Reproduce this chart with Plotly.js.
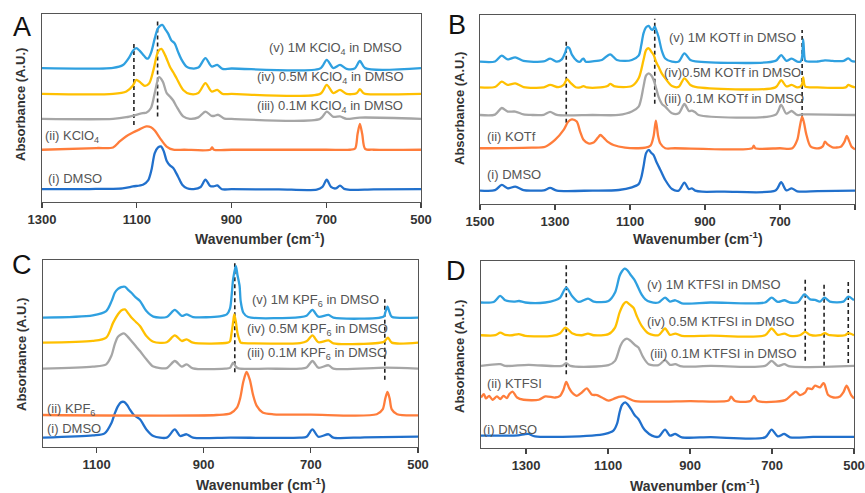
<!DOCTYPE html>
<html>
<head>
<meta charset="utf-8">
<script src="https://cdn.plot.ly/plotly-3.0.1.min.js"></script>
<style>html,body{margin:0;padding:0;background:#fff;}#chart{width:865px;height:493px;}</style>
</head>
<body>
<div id="chart"></div>
<script>
// ---------------- DATA (wavenumber cm-1, stacked absorbance in arbitrary units) ----------------
// Panel A : KClO4
const aDmsoX = [1300,1200,1130,1108,1087,1076,1069,1062,1055,1049,1043,1037,1030,1023,1013,1004,994,980,965,955,945,938,930,920,900,800,720,708,699,690,680,671,662,650,600,500];
const aDmsoY = [6.9,6.9,7.3,8.3,9.2,11.5,17,26,29,29.6,27,22,19.5,18.1,13.6,9.2,7.3,6.9,8,11.9,8.5,8.3,8.8,6.8,6.8,6.7,6.6,8,11.9,8,7.2,8.7,7,6.5,6.7,6.9];
const aSaltX = [1300,1185,1150,1136,1122,1108,1095,1080,1070,1062,1051,1037,1023,1000,945,941,937,900,700,650,639,634,629,624,618,600,500];
const aSaltY = [27.8,28.7,29.0,32.2,35.0,37.0,38.5,40.2,39.8,38.0,34.0,29.5,27.8,27.8,27.8,29.0,27.8,27.8,27.8,27.8,28.5,36,41.6,36,28.3,27.8,27.8];
const a01X = [1300,1150,1122,1101,1087,1080,1070,1062,1053,1045,1037,1030,1023,1016,1002,988,970,955,942,935,928,915,900,713,699,685,671,657,629,500];
const a01Y = [44.2,44.2,45.1,46.4,47.3,47.5,50,58,66.4,64,58,56.1,54,50.8,45.5,44.2,45,48.1,45.8,45.9,46.4,44.4,44.2,44.2,48.1,45.3,45.5,44.2,44.9,44.2];
const a05X = [1300,1150,1122,1108,1101,1092,1083,1074,1065,1055,1048,1040,1030,1023,1016,1002,988,970,955,942,930,919,900,713,699,685,671,657,636,629,622,618,500];
const a05Y = [57.5,57.5,58.8,62,65,63.5,61.8,63,70,80,81.4,78,72,69,65.8,59.6,57.5,58,63.2,58.8,59.6,57.5,57.5,57.5,62.3,57.9,59.6,57.5,57.8,60,58,57.5,57.5];
const a1X = [1300,1150,1129,1115,1108,1101,1094,1087,1080,1076,1069,1062,1055,1046,1040,1034,1027,1020,1013,1006,995,988,970,955,942,930,919,900,713,699,685,671,657,640,629,618,500];
const a1Y = [71.2,71.4,72.9,77.3,80.5,81.8,80.5,78.5,76.5,76.3,80,87,92.5,94.2,92,89.7,86,84.4,80,76,72,71.2,71.5,76.5,72.1,72.9,70.8,71,71,75.6,71.2,72.9,70.8,71,75,71.2,71.2];

// Panel B : KOTf
const bDmsoX = [1500,1460,1442,1426,1406,1384,1362,1330,1313,1295,1200,1130,1095,1077,1070,1064,1057,1050,1043,1037,1030,1019,1006,988,970,955,943,935,926,908,850,712,697,683,669,654,600,500];
const bDmsoY = [7.1,7.3,10.1,8.3,9.2,7.4,7.1,7.2,8.5,7.1,7.1,7.4,8.8,10.5,14,19.8,27,28.6,27,25.9,22.5,18.0,12.7,7.9,7.1,11.3,7.9,8.3,7.1,6.5,6.6,7.1,11.5,7.2,8.3,6.7,6.8,7.1];
const bSaltX = [1500,1362,1326,1300,1277,1265,1255,1242,1233,1224,1211,1197,1186,1179,1170,1160,1144,1113,1077,1059,1045,1037,1031,1025,1019,1006,980,774,770,766,700,667,654,648,641,636,630,618,596,586,580,573,560,538,528,522,515,509,500];
const bSaltY = [29.5,29.8,30.3,33.9,39.2,43.5,44.8,43.6,38.3,34,32.1,32.5,35,36.5,35,33,31.2,29.8,29.5,29.8,31,36,44.1,36,32,29.5,29.5,29.5,30.9,29.5,29.5,29.5,33.9,40,46.2,43,37,30.3,29.5,30.5,33.0,31.5,30.0,30.3,33,36.0,33,30.3,28.9];
const b01X = [1500,1460,1442,1426,1406,1384,1362,1330,1313,1295,1200,1130,1095,1077,1070,1064,1057,1050,1043,1037,1030,1024,1015,1006,988,970,955,943,935,926,917,712,697,683,669,654,641,500];
const b01Y = [47.1,47.3,50.8,48.9,48.9,47.4,47.1,47.2,48.7,47.1,47.1,47.1,48.9,51.5,56,62.1,68,69.1,68,65.6,61,56.8,53,51.5,48.0,48,52.9,49.2,49.4,48.5,47.1,47.2,52.4,47.8,49.2,47.1,47.4,47.1];
const b05X = [1500,1460,1442,1426,1406,1384,1330,1313,1291,1277,1268,1258,1245,1233,1224,1215,1179,1160,1153,1140,1095,1077,1064,1057,1050,1043,1037,1030,1024,1015,1006,988,970,955,939,926,712,697,683,669,654,645,641,638,635,632,600,525,518,509,500];
const b05Y = [61.7,61.9,64.7,63.0,63.8,61.9,61.7,63.0,61.8,63.0,66.0,64,61.8,61.7,62.4,61.7,61.7,62.4,63.6,62.2,62.4,66.5,76.2,81.5,82.4,80.5,78.8,75,72.7,69,66.5,62.4,62,66.5,63.0,62,61.7,65.5,62.2,63.0,61.7,62.2,63.5,67.0,63,62,61.7,61.7,63.0,62.2,61.7];
const b1X = [1500,1460,1442,1426,1406,1384,1330,1313,1295,1282,1273,1268,1262,1255,1242,1233,1228,1224,1218,1200,1175,1153,1135,1113,1095,1077,1070,1064,1057,1050,1044,1040,1034,1030,1024,1015,1006,988,970,955,939,926,712,697,683,669,654,645,641,638,635,632,600,580,560,530,518,509,500];
const b1Y = [75.3,75.4,78.5,76.5,77.6,75.7,75.4,76.9,75.3,76.5,80,82.9,82.5,79,75.8,75.3,76.5,76.9,75.3,75.5,76.2,79.2,76.2,75.7,76.2,78.5,84,90.3,93.5,94.2,92.5,92.1,93.8,92,88.5,81,77,75.3,75.4,79.7,76.2,75.5,75.7,78.8,75.7,76.9,75.3,75.4,78,87.1,78,75.7,75.4,76,75.7,75.7,77.1,75.7,75.3];

// Panel C : KPF6
const cDmsoX = [1200,1107,1085,1072,1066,1060,1054,1049,1043,1038,1030,1019,1007,994,969,954,944,932,920,850,720,708,697,686,667,658,600,500];
const cDmsoY = [5.0,6.2,7.3,13.0,18,21.9,24,24.1,22.5,20.1,17,14.8,9.4,5.9,5.0,9.4,5.9,6.8,5.0,5.0,5.0,5.5,9.4,5.5,6.8,5.0,5.2,5.5];
const cSaltX = [1200,876,850,838,832,826,820,814,808,801,790,770,700,577,566,561,557,553,549,539,500];
const cSaltY = [17.1,17.1,18,21,26,35,40.1,36,28,22,18.5,17.5,17.3,17.5,20.1,26,29.4,26,20.1,17.5,16.9];
const c01X = [1200,1107,1082,1072,1066,1060,1049,1042,1035,1027,1019,1007,994,969,954,941,932,920,860,851,845,840,835,780,720,708,697,686,667,658,560,500];
const c01Y = [41.9,43.0,44.2,49,55,59,60.8,59,56.7,54,51.3,46.9,43.0,42.2,46.0,43.0,44.2,42.1,41.9,42.3,45.1,43,42,41.9,41.9,42.5,46.0,42.4,43.7,41.9,42.4,41.9];
const c05X = [1200,1107,1082,1069,1060,1054,1047,1041,1035,1027,1019,1007,994,969,954,941,932,920,855,851,848,845,843,840,837,833,831,826,720,708,697,686,667,658,565,561,556,549,500];
const c05Y = [55.8,56.7,58.5,66.5,71,73,73.6,71.5,69.2,67,64.7,59.4,56.3,56,59.7,56.7,57.6,55.8,55.8,56.5,61,67,70.9,67,61,57,55.8,55.6,55.6,56.5,59.7,56.0,57.0,55.4,56.1,57,58.5,55.8,55.8];
const c1X = [1200,1107,1082,1072,1066,1060,1054,1047,1041,1035,1027,1019,1007,994,969,954,941,932,920,870,857,851,848,845,840,837,833,831,826,817,720,708,697,686,667,658,564,561,557,553,549,500];
const c1Y = [69.2,70.4,72.7,78,82.5,84.5,85.5,85.7,84,82.5,80,78.1,72.7,69.7,69.5,73.3,70.1,70.9,69.5,69.9,70.9,74,80.7,90,96.8,92,86.1,78,71.8,69.5,69.5,70.2,73.3,69.7,70.6,69.2,69.8,72,75.0,72,69.7,69.2];

// Panel D : KTFSI
const dDmsoX = [1410,1320,1305,1294,1278,1139,1107,1087,1078,1072,1066,1058,1051,1044,1035,1026,1015,1009,993,977,961,949,936,920,850,717,701,686,670,656,600,500];
const dDmsoY = [6.6,6.8,7.3,7.5,6.2,6.6,7.5,9.3,13,19.0,23,24.4,23,20.8,17.5,15.5,11,9.3,6.6,6.0,9.8,6.6,7.5,5.7,5.8,5.7,9.8,6.2,7.5,5.7,5.9,6.0];
const dSaltX = [1410,1403,1398,1390,1382,1371,1363,1355,1347,1341,1333,1322,1306,1269,1253,1229,1217,1209,1202,1195,1188,1176,1164,1152,1139,1127,1115,1099,1087,1074,1062,1050,1034,900,806,800,790,753,744,735,668,652,642,632,619,613,603,595,583,575,572,563,550,534,526,518,507,500];
const dSaltY = [27.0,28.8,26.5,27.9,25.8,27.6,26.2,27.9,26.7,28.8,30.2,27.0,25.8,25.8,27.6,27.0,27.9,31,35.4,32,29.7,27.9,29.7,31.9,28.5,28.3,27,25.3,26.2,27.4,27.6,26.5,25.1,25.1,25.4,27.4,25.1,25.1,27.9,25.1,25.6,28.5,30.2,28.3,29.7,31.9,31.5,33.3,32.4,34.7,34.2,28.3,27.0,27.6,29.7,33.3,28.3,26.5];
const d01X = [1410,1363,1351,1294,1213,1202,1192,1099,1083,1070,1062,1054,1046,1034,1026,1014,1001,977,961,949,936,920,850,717,701,686,670,656,500];
const d01Y = [43.9,44.8,43.9,44.5,43.9,45.4,43.9,44.3,46.6,54.6,57.5,58.5,57.5,55,53.7,48.4,44.8,44.3,47.0,44.5,44.8,43.6,43.9,43.9,46.6,43.9,44.8,43.6,43.9];
const d05X = [1410,1375,1363,1351,1334,1318,1302,1237,1217,1204,1188,1164,1149,1135,1099,1083,1072,1062,1056,1046,1038,1030,1018,1001,977,961,949,936,920,850,717,701,686,670,656,632,619,607,583,571,559,522,514,500];
const d05Y = [60.3,60.3,61.7,60.5,60.3,60.9,60.0,60.0,61.4,64.4,61.4,60.3,61.2,60.3,60.9,64.4,72.4,77,78.1,76.5,75,70.6,65.3,61.2,60.3,63.9,60.5,61.2,60.0,60.1,60.3,63.9,60.5,61.2,60.0,60.3,62.1,60.5,60.3,61.4,60.3,60.3,61.4,60.3];
const d1X = [1410,1379,1363,1351,1330,1317,1302,1253,1229,1217,1202,1188,1172,1149,1135,1099,1083,1072,1066,1060,1054,1046,1036,1030,1018,1009,997,977,961,949,936,920,850,717,701,686,670,656,636,621,607,595,583,572,559,526,514,500];
const d1Y = [77.8,78.1,81.3,79.0,78.3,78.6,77.8,77.8,79.0,80.4,85.8,81.3,78.1,79.9,78.3,78.6,83.1,92.0,94.5,95.9,95.3,92.9,90,87.5,82,79.5,78.1,77.8,80.4,78.3,79.0,77.4,77.8,77.8,80.4,78.1,79.0,77.8,78.1,82.2,79.5,79.2,78.3,80.4,78.3,78.3,81.0,79.0];

// Dashed guide lines: wavenumber, lower and upper extent
const aGuideX = [1106, 1056];   const aGuideLo = [41, 45.5];  const aGuideHi = [85, 96];
const bGuideX = [1270, 1034, 641]; const bGuideLo = [43, 53, 46]; const bGuideHi = [87, 98, 92];
const cGuideX = [842, 562];     const cGuideLo = [40, 36];    const cGuideHi = [99.5, 79];
const dGuideX = [1202, 619, 573, 514]; const dGuideLo = [39.5, 46.6, 44, 45.4]; const dGuideHi = [98.2, 90.6, 88, 88.8];

// Axis ranges / ticks
const aRange = [1300, 500]; const aTicks = [1300, 1100, 900, 700, 500];
const bRange = [1500, 500]; const bTicks = [1500, 1300, 1100, 900, 700, 500];
const cRange = [1200, 500]; const cTicks = [1100, 900, 700, 500];
const dRange = [1410, 500]; const dTicks = [1300, 1100, 900, 700, 500];

// Labels
const aLabels = ['(v) 1M KClO<sub>4</sub> in DMSO','(iv) 0.5M KClO<sub>4</sub> in DMSO','(iii) 0.1M KClO<sub>4</sub> in DMSO','(ii) KClO<sub>4</sub>','(i) DMSO'];
const bLabels = ['(v) 1M KOTf in DMSO','(iv)0.5M KOTf in DMSO','(iii) 0.1M KOTf in DMSO','(ii) KOTf','(i) DMSO'];
const cLabels = ['(v) 1M KPF<sub>6</sub> in DMSO','(iv) 0.5M KPF<sub>6</sub> in DMSO','(iii) 0.1M KPF<sub>6</sub> in DMSO','(ii) KPF<sub>6</sub>','(i) DMSO'];
const dLabels = ['(v) 1M KTFSI in DMSO','(iv) 0.5M KTFSI in DMSO','(iii) 0.1M KTFSI in DMSO','(ii) KTFSI','(i) DMSO'];

// ---------------- STYLE ----------------
const W = 865, H = 493;
const COL = {dmso:'#2170cc', salt:'#ff7d3b', c01:'#a6a6a6', c05:'#ffc000', c1:'#2fa0e0'};
const FONT = 'Liberation Sans, Arial, sans-serif';
const px = v => v / W, py = v => 1 - v / H;

const panels = [
  {id:'', letter:'A', box:[42,421,14,202], range:aRange, ticks:aTicks, labels:aLabels,
   series:[[aDmsoX,aDmsoY,'dmso'],[aSaltX,aSaltY,'salt'],[a01X,a01Y,'c01'],[a05X,a05Y,'c05'],[a1X,a1Y,'c1']],
   guides:[aGuideX,aGuideLo,aGuideHi],
   labelPos:[[267,49],[255,77],[255,106],[43,137],[46,178]], letterPos:[22,27], ytPos:[21,105], xtPos:[260,238]},
  {id:'2', letter:'B', box:[480,855,15,204], range:bRange, ticks:bTicks, labels:bLabels,
   series:[[bDmsoX,bDmsoY,'dmso'],[bSaltX,bSaltY,'salt'],[b01X,b01Y,'c01'],[b05X,b05Y,'c05'],[b1X,b1Y,'c1']],
   guides:[bGuideX,bGuideLo,bGuideHi],
   labelPos:[[667,38],[662,72],[662,98],[485,137],[485,174]], letterPos:[457,25], ytPos:[459,109], xtPos:[698,238]},
  {id:'3', letter:'C', box:[43,418,260,447], range:cRange, ticks:cTicks, labels:cLabels,
   series:[[cDmsoX,cDmsoY,'dmso'],[cSaltX,cSaltY,'salt'],[c01X,c01Y,'c01'],[c05X,c05Y,'c05'],[c1X,c1Y,'c1']],
   guides:[cGuideX,cGuideLo,cGuideHi],
   labelPos:[[250,300],[245,329],[245,353],[45,409],[45,428]], letterPos:[22,265], ytPos:[21,355], xtPos:[261,484]},
  {id:'4', letter:'D', box:[481,854,261,448], range:dRange, ticks:dTicks, labels:dLabels,
   series:[[dDmsoX,dDmsoY,'dmso'],[dSaltX,dSaltY,'salt'],[d01X,d01Y,'c01'],[d05X,d05Y,'c05'],[d1X,d1Y,'c1']],
   guides:[dGuideX,dGuideLo,dGuideHi],
   labelPos:[[645,284],[645,321],[648,353],[485,383],[481,429]], letterPos:[456,271], ytPos:[459,357], xtPos:[695,485]}
];

const traces = [];
const layout = {
  width: W, height: H, margin:{l:0,r:0,t:0,b:0},
  paper_bgcolor:'#fff', plot_bgcolor:'#fff', showlegend:false,
  font:{family:FONT, color:'#333'},
  annotations:[], shapes:[]
};

panels.forEach(p => {
  const xa = 'x' + p.id, ya = 'y' + p.id;
  const xk = 'xaxis' + p.id, yk = 'yaxis' + p.id;
  layout[xk] = {
    domain:[px(p.box[0]), px(p.box[1])], range:p.range, anchor:ya,
    tickmode:'array', tickvals:p.ticks, ticktext:p.ticks.map(String),
    ticks:'outside', ticklen:5, tickwidth:1.2, tickcolor:'#444',
    showline:true, linecolor:'#555', linewidth:1.3, mirror:true,
    showgrid:false, zeroline:false,
    tickfont:{family:FONT, size:13, color:'#333', weight:'bold'}
  };
  layout[yk] = {
    domain:[py(p.box[3]), py(p.box[2])], range:[0,100], anchor:xa,
    showticklabels:false, ticks:'', showline:true, linecolor:'#555', linewidth:1.3, mirror:true,
    showgrid:false, zeroline:false
  };
  // dashed guides (drawn first so spectra sit above)
  const [gx, glo, ghi] = p.guides;
  gx.forEach((g, i) => {
    traces.push({x:[g, g], y:[glo[i], ghi[i]], xaxis:xa, yaxis:ya, mode:'lines',
      line:{color:'#222', width:1.6, dash:'4px,3px'}, hoverinfo:'skip'});
  });
  p.series.forEach(s => {
    traces.push({x:s[0], y:s[1], xaxis:xa, yaxis:ya, mode:'lines',
      line:{color:COL[s[2]], width:2.3, shape:'spline', smoothing:0.8}, hoverinfo:'skip'});
  });
  p.labels.forEach((t, i) => {
    layout.annotations.push({text:t, xref:'paper', yref:'paper', x:px(p.labelPos[i][0]), y:py(p.labelPos[i][1]),
      xanchor:'left', yanchor:'middle', showarrow:false, font:{family:FONT, size:13, color:'#555'}});
  });
  layout.annotations.push({text:p.letter, xref:'paper', yref:'paper', x:px(p.letterPos[0]), y:py(p.letterPos[1]),
    xanchor:'center', yanchor:'middle', showarrow:false, font:{family:FONT, size:27, color:'#111'}});
  layout.annotations.push({text:'Absorbance (A.U.)', xref:'paper', yref:'paper', x:px(p.ytPos[0]), y:py(p.ytPos[1]),
    xanchor:'center', yanchor:'middle', textangle:-90, showarrow:false, font:{family:FONT, size:13, color:'#333', weight:'bold'}});
  layout.annotations.push({text:'Wavenumber (cm<sup>-1</sup>)', xref:'paper', yref:'paper', x:px(p.xtPos[0]), y:py(p.xtPos[1]),
    xanchor:'center', yanchor:'middle', showarrow:false, font:{family:FONT, size:14, color:'#333', weight:'bold'}});
});

Plotly.newPlot('chart', traces, layout, {staticPlot:true, displayModeBar:false});
</script>
</body>
</html>
